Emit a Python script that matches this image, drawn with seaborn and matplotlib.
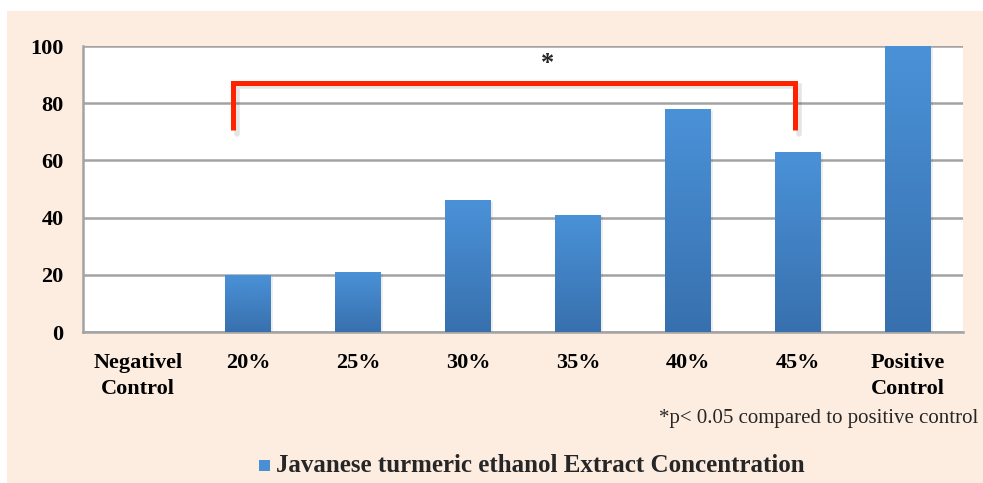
import numpy as np
import pandas as pd
import matplotlib
matplotlib.use("Agg")
import matplotlib.pyplot as plt
import matplotlib.patches as mpatches
import seaborn as sns

categories = ["Negativel\nControl", "20%", "25%", "30%", "35%", "40%", "45%", "Positive\nControl"]
values = [0, 20, 21, 46, 41, 78, 63, 100]
yticks = [0, 20, 40, 60, 80, 100]
legend_label = "Javanese turmeric ethanol Extract Concentration"
footnote = "*p< 0.05 compared to positive control"

sns.set_theme(style="white")
plt.rcParams['font.family'] = ['Liberation Serif', 'DejaVu Serif']

fig = plt.figure(figsize=(9.83, 4.83), dpi=100)
fig.patch.set_facecolor("white")
bg = mpatches.Rectangle((7/983, 0), 1, 1 - 11/483, transform=fig.transFigure,
                        facecolor="#FDECE0", edgecolor="none", zorder=-10)
fig.patches.append(bg)

ax = fig.add_axes([83/983, 1 - 332/483, 880/983, 286/483])
ax.set_facecolor("white")

df = pd.DataFrame({"cat": categories, "val": values})
sns.barplot(data=df, x="cat", y="val", color="#4A8FD4", width=0.41, ax=ax,
            saturation=1, zorder=3)

# gradient fill for bars
top_c = np.array([0x4A, 0x92, 0xD8]) / 255
bot_c = np.array([0x38, 0x70, 0xAE]) / 255
grad = np.linspace(0, 1, 256)[:, None]
img = top_c[None, None, :] * (1 - grad[:, :, None]) + bot_c[None, None, :] * grad[:, :, None]
for p in ax.patches:
    x0, y0 = p.get_x(), p.get_y()
    w, h = p.get_width(), p.get_height()
    if h <= 0:
        p.set_visible(False)
        continue
    sh = mpatches.Rectangle((x0 + 0.02, y0), w, h - 0.6, facecolor="#000000",
                            alpha=0.07, edgecolor="none", zorder=2)
    ax.add_patch(sh)
    p.set_facecolor("none")
    p.set_edgecolor("none")
    im = ax.imshow(img, extent=[x0, x0 + w, y0, y0 + h], aspect="auto",
                   origin="upper", zorder=3)
    im.set_clip_path(p)

ax.set_xlim(-0.5, len(categories) - 0.5)
ax.set_ylim(0, 100)
ax.set_yticks(yticks)
ax.set_yticklabels([str(t) for t in yticks], fontsize=16, fontweight="bold")
ax.yaxis.grid(True, color="#A3A3A3", linewidth=1.8, zorder=0)
ax.set_axisbelow(True)
ax.set_xlabel("")
ax.set_ylabel("")

ax.set_xticks(range(len(categories)))
ax.set_xticklabels(categories, fontsize=16, fontweight="bold", linespacing=1.38)
ax.tick_params(axis="x", length=0, pad=15)
ax.set_xticks(np.arange(-0.5, len(categories), 1), minor=True)
ax.tick_params(axis="x", which="minor", length=6, width=1.8, color="#A3A3A3", direction="out")
ax.tick_params(axis="y", length=6, width=1.8, color="#A3A3A3", direction="out", pad=8)
for lab in ax.get_yticklabels() + ax.get_xticklabels():
    lab.set_color("black")

for s in ["top", "right"]:
    ax.spines[s].set_visible(False)
for s in ["left", "bottom"]:
    ax.spines[s].set_color("#A3A3A3")
    ax.spines[s].set_linewidth(1.8)

# significance bracket
bx = [0.864, 0.864, 5.97, 5.97]
by = [70.6, 87.1, 87.1, 70.6]
ax.plot([b + 0.04 for b in bx], [v - 1.2 for v in by], color="black", alpha=0.1,
        linewidth=4, solid_joinstyle="miter", zorder=4)
ax.plot(bx, by, color="#FF2200", linewidth=3.6, solid_joinstyle="miter",
        solid_capstyle="butt", zorder=5)
ax.text(3.72, 91.5, "*", ha="center", va="baseline", fontsize=19, fontweight="bold", zorder=6)

# legend
fig.patches.append(mpatches.Rectangle((259/983, 1 - 471/483), 11/983, 11/483,
                                      transform=fig.transFigure, facecolor="#4A8FD4",
                                      edgecolor="none"))
fig.text(276/983, 1 - 466/483, legend_label, fontsize=18, fontweight="bold",
         ha="left", va="center")

fig.text(978/983, 1 - 418/483, footnote, fontsize=15, ha="right", va="center")

fig.savefig("out.png", dpi=100, facecolor=fig.get_facecolor())
